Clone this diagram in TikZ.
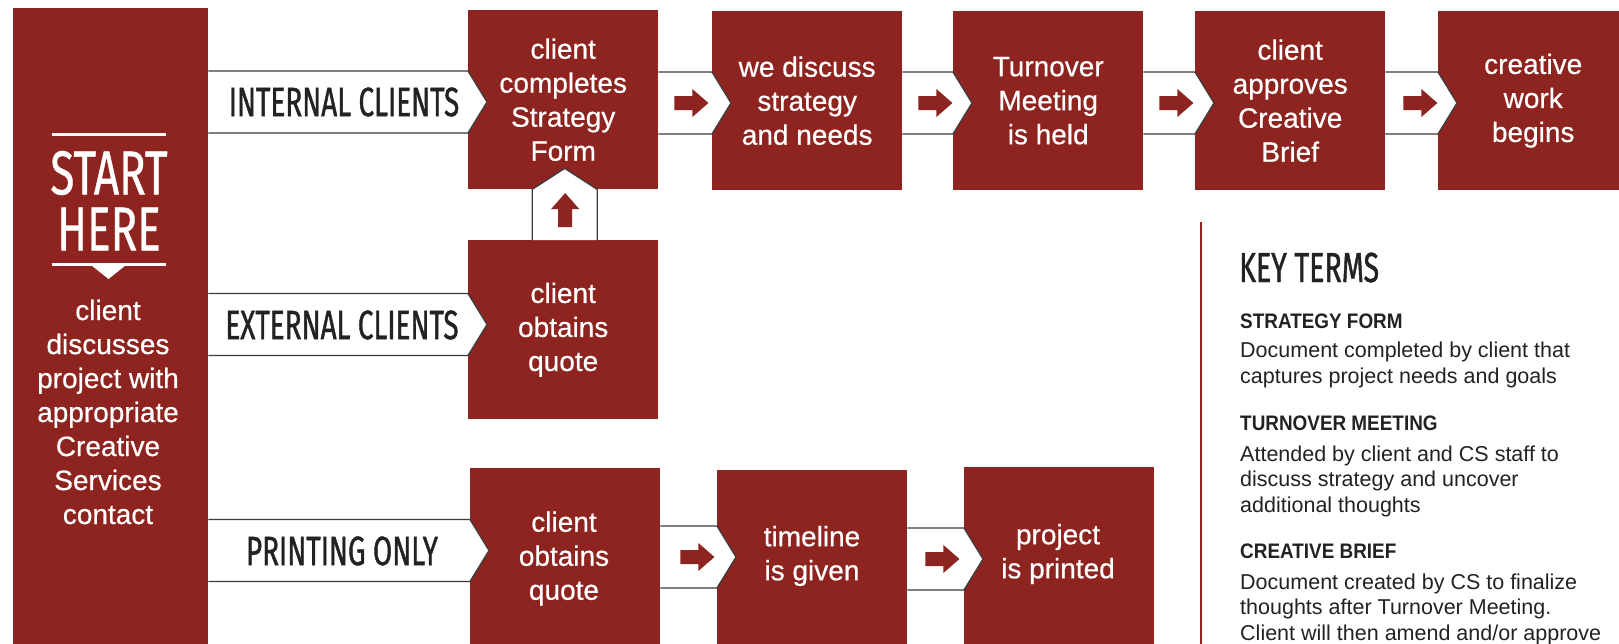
\documentclass[tikz,border=0pt]{standalone}
\usepackage{fontspec}
\setmainfont{Liberation Sans}
\newfontfamily\condfont[FakeStretch=0.68, FakeBold=1]{Fira Sans}
\newfontfamily\startfont[FakeStretch=0.71, FakeBold=0.6]{Fira Sans}
\newfontfamily\boxfont[FakeBold=0.5]{Liberation Sans}
\newfontfamily\headfont[FakeStretch=0.9]{Liberation Sans}
\usetikzlibrary{calc}
\definecolor{cred}{HTML}{8E2420}
\definecolor{cline}{HTML}{3C3C3C}
\definecolor{ctext}{HTML}{222222}
\tikzset{
  redbox/.style={fill=cred, draw=none, minimum width=190pt, minimum height=179pt,
    anchor=north west, inner sep=0pt, text=white, align=center,
    font=\boxfont\fontsize{28}{34}\selectfont},
  boxtext/.style={inner sep=0pt, text=white, align=center, font=\boxfont\fontsize{28}{34}\selectfont},
  ribbonline/.style={draw=cline, line width=1.3pt, line join=miter},
  ribbonlabel/.style={font=\condfont\fontsize{41}{41}\selectfont, text=ctext, inner sep=0pt},
  rarrow/.pic={\fill[cred] (-17,-7) -- (1,-7) -- (1,-14) -- (17,0) -- (1,14) -- (1,7) -- (-17,7) -- cycle;},
  termhead/.style={anchor=base west, inner sep=0pt, text=ctext, font=\headfont\bfseries\fontsize{21}{25}\selectfont},
  termbody/.style={anchor=base west, inner sep=0pt, text=ctext, align=left, font=\fontsize{21.5}{25.3}\selectfont},
}
\newcommand\conribbon[3]{%
  \fill[white] let \p1=(#1.east), \p2=(#2.west) in
    (\x1,{#3-31}) -- (\x2,{#3-31}) -- ({\x2+19pt},#3) -- (\x2,{#3+31}) -- (\x1,{#3+31}) -- cycle;
  \draw[ribbonline] let \p1=(#1.east), \p2=(#2.west) in
    (\x1,{#3-31}) -- (\x2,{#3-31}) -- ({\x2+19pt},#3) -- (\x2,{#3+31}) -- (\x1,{#3+31});
}
\newcommand\conarrow[3]{%
  \path let \p1=(#1.east) in ({\x1+#2pt},#3) pic {rarrow};
}
\begin{document}
\begin{tikzpicture}[x=1pt,y=-1pt]
\useasboundingbox (0,0) rectangle (1619,643);
\fill[white] (0,0) rectangle (1619,643);
\clip (0,0) rectangle (1619,643);

% start box
\node[fill=cred, draw=none, minimum width=195pt, minimum height=650pt, anchor=north west, inner sep=0pt] (start) at (13,8) {};
\draw[white, line width=3pt] (52,134) -- (166,134);
\draw[white, line width=3pt] (52,264) -- (166,264);
\fill[white] (91,265) -- (126,265) -- (108.5,279) -- cycle;
\node[inner sep=0pt, text=white, font=\startfont\fontsize{62}{62}\selectfont] (starttxt) at (109,173) {START};
\node[inner sep=0pt, text=white, font=\startfont\fontsize{62}{62}\selectfont] (heretxt) at (109,229) {HERE};
\node[boxtext] (starttext) at (108,412) {client\\discusses\\project with\\appropriate\\Creative\\Services\\contact};

% row 1
\node[redbox] (b1) at (468,10) {client\\completes\\Strategy\\Form};
\node[redbox] (b2) at (712,11) {we discuss\\strategy\\and needs};
\node[redbox] (b3) at (953,11) {Turnover\\Meeting\\is held};
\node[redbox] (b4) at (1195,11) {client\\approves\\Creative\\Brief};
\node[redbox] (b5) at (1438,11) {creative\\work\\begins};

% row 2
\node[redbox] (q1) at (468,240) {client\\obtains\\quote};

% row 3
\node[redbox] (p1) at (470,468) {};
\node[redbox] (p2) at (717,470) {};
\node[redbox] (p3) at (964,467) {};
\node[boxtext] (p1t) at (564,558.5) {client\\obtains\\quote};
\node[boxtext] (p2t) at (812,556) {timeline\\is given};
\node[boxtext] (p3t) at (1058,554) {project\\is printed};

% ribbons from start
\conribbon{start}{b1}{102}
\conribbon{start}{q1}{324.5}
\conribbon{start}{p1}{550.5}
\node[ribbonlabel] (lint) at (344,102) {INTERNAL CLIENTS};
\node[ribbonlabel] (lext) at (342,325) {EXTERNAL CLIENTS};
\node[ribbonlabel] (lprt) at (342,551) {PRINTING ONLY};

% connectors row 1
\conribbon{b1}{b2}{103}\conarrow{b1}{33}{103}
\conribbon{b2}{b3}{103}\conarrow{b2}{33}{103}
\conribbon{b3}{b4}{103}\conarrow{b3}{33}{103}
\conribbon{b4}{b5}{103}\conarrow{b4}{35}{103}
% connectors row 3
\conribbon{p1}{p2}{557}\conarrow{p1}{37}{557}
\conribbon{p2}{p3}{559}\conarrow{p2}{35}{559}

% up connector
\fill[white] let \p1=(q1.north), \p2=(b1.south) in
  ({\x1-31pt},\y1) -- ({\x1-31pt},\y2) -- ({\x1+1.5pt},{\y2+21pt}) -- ({\x1+34pt},\y2) -- ({\x1+34pt},\y1) -- cycle;
\draw[ribbonline] let \p1=(q1.north), \p2=(b1.south) in
  ({\x1-31pt},\y1) -- ({\x1-31pt},\y2) -- ({\x1+1.5pt},{\y2+21pt}) -- ({\x1+34pt},\y2) -- ({\x1+34pt},\y1);
\path let \p1=(q1.north) in ({\x1+2pt},210) pic[rotate=90] {rarrow};

% key terms
\draw[cred, line width=1.5pt] (1201,222) -- (1201,650);
\node[anchor=base west, inner sep=0pt, text=ctext, font=\condfont\fontsize{42}{42}\selectfont] (kt) at (1239,282) {KEY TERMS};
\node[termhead] (h1) at (1240,328) {STRATEGY FORM};
\node[termbody] (d1) at (1240,383) {Document completed by client that\\captures project needs and goals};
\node[termhead] (h2) at (1240,430) {TURNOVER MEETING};
\node[termbody] (d2) at (1240,512) {Attended by client and CS staff to\\discuss strategy and uncover\\additional thoughts};
\node[termhead] (h3) at (1240,558) {CREATIVE BRIEF};
\node[termbody] (d3) at (1240,640) {Document created by CS to finalize\\thoughts after Turnover Meeting.\\Client will then amend and/or approve};
\end{tikzpicture}
\end{document}
